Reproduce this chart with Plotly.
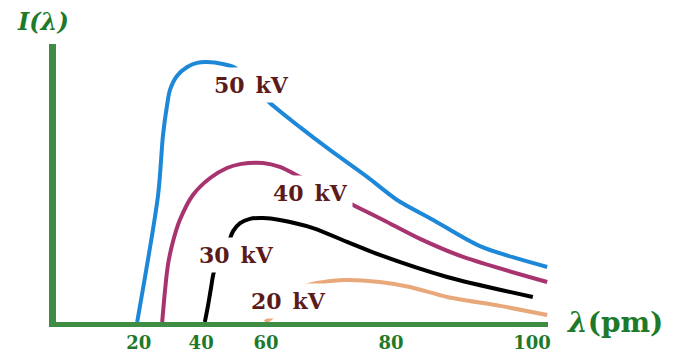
import plotly.graph_objects as go

# Curve data (x in display units along the λ axis, y = relative intensity)
x_50kv = [19.8, 24.9, 26.1, 27.1, 27.8, 29.5, 32.0, 34.4, 36.8, 40.7, 43.7, 46.1, 48.5, 52.2, 59.5, 66.8, 75.9, 83.2, 92.0, 103.4, 119.8]
y_50kv = [0, 45.7, 67.3, 78.1, 83.5, 88.5, 91.7, 93.2, 93.5, 92.8, 91.4, 87.8, 84.2, 78.8, 70.1, 61.9, 52.2, 43.9, 36.7, 27.3, 19.8]

x_40kv = [25.9, 26.6, 27.3, 28.5, 30.2, 33.4, 37.6, 41.7, 44.9, 50.5, 54.6, 59.5, 66.8, 73.4, 79.8, 88.8, 99.3, 119.8]
y_40kv = [0, 11.5, 20.5, 28.8, 36.7, 45.7, 51.8, 55.4, 56.8, 57.2, 55.8, 52.2, 46.4, 41.4, 36.7, 29.9, 23.4, 14.4]

x_30kv = [36.3, 37.1, 37.8, 38.5, 40.0, 42.0, 43.2, 44.9, 47.3, 50.5, 54.6, 62.7, 71.0, 78.3, 95.4, 116.3]
y_30kv = [0, 6.1, 12.2, 18.0, 23.4, 28.4, 32.7, 35.6, 37.1, 37.4, 36.7, 33.8, 28.8, 24.5, 16.2, 9.0]

x_20kv = [51.0, 52.4, 53.9, 56.1, 58.3, 60.2, 63.7, 70.0, 79.0, 86.3, 95.4, 108.3, 119.8]
y_20kv = [0, 1.4, 3.2, 7.2, 10.8, 12.6, 14.0, 15.1, 14.4, 12.6, 9.0, 5.8, 2.5]

series_names = ["50 kV", "40 kV", "30 kV", "20 kV"]
tick_positions = [20.2, 35.4, 51.2, 81.7, 116.1]
tick_labels = ["20", "40", "60", "80", "100"]

colors = ["#1e88d8", "#a8346f", "#000000", "#e8a87a"]
xs = [x_50kv, x_40kv, x_30kv, x_20kv]
ys = [y_50kv, y_40kv, y_30kv, y_20kv]

fig = go.Figure()
for name, x, y, c in zip(series_names, xs, ys, colors):
    fig.add_trace(go.Scatter(x=x, y=y, mode="lines", name=name,
                             line=dict(color=c, width=4, shape="spline", smoothing=0.8),
                             hoverinfo="skip"))

label_pos = {"50 kV": (47.8, 85.3), "40 kV": (62.0, 46.4), "30 kV": (44.1, 24.1), "20 kV": (56.6, 7.6)}
for name in series_names:
    lx, ly = label_pos[name]
    fig.add_annotation(x=lx, y=ly, xref="x", yref="y",
                       text="<b>" + name.replace(" ", "\u2002") + "</b>",
                       showarrow=False, bgcolor="white", borderpad=4,
                       font=dict(family="DejaVu Serif", size=22, color="#5c1b1b"))

green_text = "#1e7a2a"
axis_green = "#3f8d45"

fig.add_annotation(x=1.034, y=0, xref="paper", yref="paper", xanchor="left", yanchor="middle",
                   text="<b><i>λ</i>(pm)</b>", showarrow=False,
                   font=dict(family="DejaVu Serif", size=28, color=green_text))
fig.add_annotation(x=-0.083, y=1.08, xref="paper", yref="paper", xanchor="left", yanchor="middle",
                   text="<b><i>I(λ)</i></b>", showarrow=False,
                   font=dict(family="DejaVu Serif", size=24, color=green_text))

fig.update_layout(
    width=696, height=355,
    margin=dict(l=48, r=156, t=36, b=41, autoexpand=False),
    plot_bgcolor="white", paper_bgcolor="white",
    showlegend=False,
)
fig.update_xaxes(range=[0, 120], showgrid=False, zeroline=False, automargin=False,
                 showline=True, linecolor=axis_green, linewidth=5,
                 tickmode="array", tickvals=tick_positions, ticktext=tick_labels,
                 ticks="", ticklabelstandoff=0,
                 tickfont=dict(family="DejaVu Serif", size=18, color=green_text, weight="bold"))
fig.update_yaxes(range=[0, 100], showgrid=False, zeroline=False, automargin=False,
                 showline=True, linecolor=axis_green, linewidth=7,
                 showticklabels=False, ticks="")

fig.write_html("out.html")
